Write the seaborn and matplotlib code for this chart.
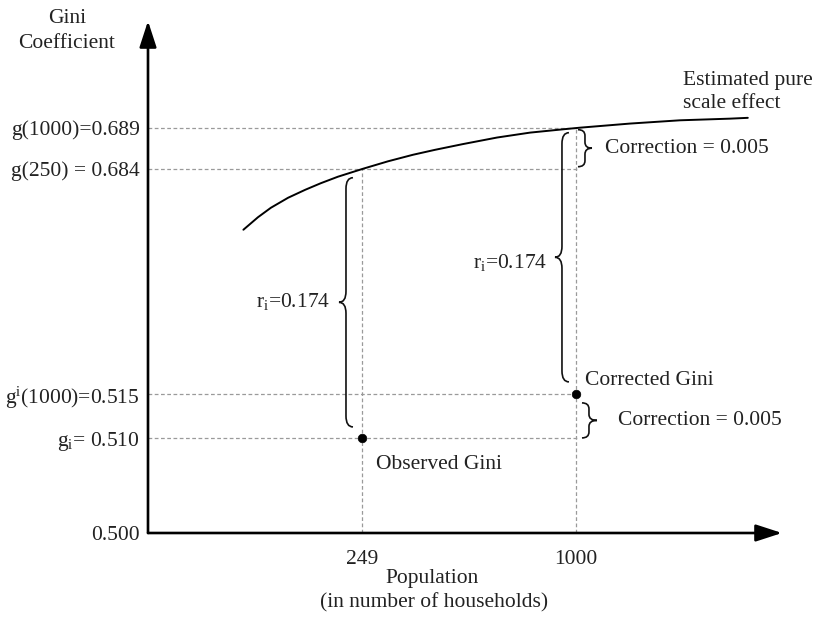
import numpy as np
import matplotlib
matplotlib.use("Agg")
import matplotlib.pyplot as plt
import seaborn as sns
from matplotlib.path import Path
from matplotlib.patches import PathPatch
from matplotlib.transforms import IdentityTransform

# ---------------- data ----------------
curve_pop = [111, 128, 143, 163, 183, 201, 221, 253, 340, 428, 505, 603,
             723, 839, 954, 1014, 1189, 1365, 1540, 1603]
curve_gini = [0.6382, 0.6476, 0.6547, 0.6622, 0.6682, 0.6731, 0.6780, 0.6840,
              0.6849, 0.6857, 0.6863, 0.6870, 0.6878, 0.6884, 0.6888, 0.6890,
              0.6895, 0.6899, 0.6901, 0.6902]
point_labels = ["Observed Gini", "Corrected Gini"]
point_pop = [249, 1000]
point_gini = [0.510, 0.515]
ref_pop = [250, 1000]
ref_gini = [0.684, 0.689]
y_ticks = [0.500, 0.510, 0.515, 0.684, 0.689]
y_tick_labels = ["0.500", r"g$_{\mathrm{i}}$= 0.510", r"g$^{\mathrm{i}}$(1000)=0.515",
                 "g(250) = 0.684", "g(1000)=0.689"]
x_ticks = [249, 1000]
x_tick_labels = ["249", "1000"]
r_label = r"r$_{\mathrm{i}}$=0.174"
corr_label = "Correction = 0.005"
curve_label = "Estimated pure\nscale effect"
y_title = "Gini\nCoefficient"
x_title = ["Population", "(in number of households)"]

# ---------------- schematic (broken) axis scales ----------------
x_knots = np.array([0, 249, 1000, 3000])
x_pos = np.array([0, 214, 428, 428 + 2000 / 3.509])
y_knots = np.array([0.500, 0.510, 0.515, 0.684, 0.689, 0.720])
y_pos = np.array([0, 95, 139, 364, 405, 405 + 31 * 8.2])

fx = lambda v: np.interp(v, x_knots, x_pos)
fx_inv = lambda p: np.interp(p, x_pos, x_knots)
fy = lambda v: np.interp(v, y_knots, y_pos)
fy_inv = lambda p: np.interp(p, y_pos, y_knots)

sns.set_theme(style="white")
plt.rcParams["font.family"] = ["Liberation Serif", "DejaVu Serif"]
plt.rcParams["mathtext.fontset"] = "custom"
plt.rcParams["mathtext.rm"] = "Liberation Serif"
plt.rcParams["mathtext.it"] = "Liberation Serif:italic"

FS = 15.5
TC = "#222222"
W, H = 818, 621

fig = plt.figure(figsize=(W / 100, H / 100), dpi=100)
ax = fig.add_axes([148 / W, 88 / H, 634 / W, 512 / H])
ax.set_xscale("function", functions=(fx, fx_inv))
ax.set_yscale("function", functions=(fy, fy_inv))
ax.set_xlim(0, 1723)
ax.set_ylim(0.500, 0.702)
for s in ax.spines.values():
    s.set_visible(False)
ax.grid(False)

# reference dashed lines
grid_kw = dict(color="#9a9a9a", lw=0.9, linestyles=(0, (3, 2)), zorder=1)
ax.hlines([ref_gini[1], ref_gini[0], point_gini[0]], 0, 1012, **grid_kw)
ax.hlines([point_gini[1]], 0, point_pop[1], **grid_kw)
ax.vlines([ref_pop[0]], 0.500, ref_gini[0], **grid_kw)
ax.vlines([ref_pop[1]], 0.500, ref_gini[1], **grid_kw)

# curve and points
sns.lineplot(x=curve_pop, y=curve_gini, ax=ax, color="black", lw=1.4,
             sort=False, zorder=3)
sns.scatterplot(x=point_pop, y=point_gini, ax=ax, color="black", s=38,
                edgecolor="black", linewidth=0.5, zorder=5)

# axes arrows
arrow_kw = dict(arrowstyle="-|>,head_length=0.8,head_width=0.26", color="black",
                lw=1.9, shrinkA=0, shrinkB=0, mutation_scale=20)
ax.annotate("", xy=(0, 1), xytext=(0, 0), xycoords="axes fraction",
            arrowprops=arrow_kw, annotation_clip=False)
ax.annotate("", xy=(1, 0), xytext=(0, 0), xycoords="axes fraction",
            arrowprops=arrow_kw, annotation_clip=False)

# ticks
ax.set_yticks(y_ticks)
ax.set_yticklabels(y_tick_labels)
ax.set_xticks(x_ticks)
ax.set_xticklabels(x_tick_labels)
ax.minorticks_off()
ax.tick_params(axis="y", length=0, pad=6, labelsize=FS, labelcolor=TC)
ax.tick_params(axis="x", length=0, pad=12, labelsize=FS, labelcolor=TC)


def brace(x, y_lo, y_hi, dx, pad_lo, pad_hi, side, w=7, wt=7, r=11, rt=11):
    X, Ylo = ax.transData.transform((x, y_lo))
    _, Yhi = ax.transData.transform((x, y_hi))
    xc = X + dx
    y0 = Ylo + pad_lo
    y1 = Yhi - pad_hi
    ym = (y0 + y1) / 2
    e = xc - side * w
    t = xc + side * wt
    verts = [(e, y1), (xc, y1), (xc, y1 - r), (xc, ym + rt), (xc, ym), (t, ym),
             (xc, ym), (xc, ym - rt), (xc, y0 + r), (xc, y0), (e, y0)]
    codes = [Path.MOVETO, Path.CURVE3, Path.CURVE3, Path.LINETO, Path.CURVE3,
             Path.CURVE3, Path.CURVE3, Path.CURVE3, Path.LINETO, Path.CURVE3,
             Path.CURVE3]
    patch = PathPatch(Path(verts, codes), transform=IdentityTransform(),
                      facecolor="none", edgecolor="#111111", lw=1.2, zorder=4)
    fig.add_artist(patch)
    return t, ym


def label_at(pt, text, dx, dy, ha="left"):
    ax.annotate(text, xy=pt, xycoords="figure pixels", xytext=(dx, dy),
                textcoords="offset pixels", ha=ha, va="center", fontsize=FS,
                color=TC, annotation_clip=False)


tip = brace(point_pop[0], point_gini[0], ref_gini[0], -16, 11, 9, -1)
label_at(tip, r_label, -9, 1, ha="right")
tip = brace(point_pop[1], point_gini[1], ref_gini[1], -14, 12, 5, -1)
label_at(tip, r_label, -8, -5, ha="right")
tip = brace(point_pop[1], ref_gini[0], ref_gini[1], 9, 2, 2, 1, w=7, wt=7, r=6, rt=6)
label_at(tip, corr_label, 13, 0)
tip = brace(point_pop[1], point_gini[0], point_gini[1], 13, 0, 9, 1, w=7, wt=8, r=6, rt=6)
label_at(tip, corr_label, 21, 0)

# point labels
pts = ax.transData.transform(np.column_stack([point_pop, point_gini]))
label_at(tuple(pts[0]), point_labels[0], 14, -27)
label_at(tuple(pts[1]), point_labels[1], 9, 13)

# curve label
end = ax.transData.transform((curve_pop[-1], curve_gini[-1]))
ax.annotate(curve_label, xy=tuple(end), xycoords="figure pixels", xytext=(-65, 26),
            textcoords="offset pixels", ha="left", va="center", fontsize=FS,
            color=TC, linespacing=1.25, annotation_clip=False)

# axis titles
fig.text(67 / W, 1 - 31 / H, y_title, ha="center", va="center", fontsize=FS,
         color=TC, linespacing=1.4)
fig.text(432 / W, 1 - 579 / H, x_title[0], ha="center", va="center",
         fontsize=FS, color=TC)
fig.text(434 / W, 1 - 603 / H, x_title[1], ha="center", va="center",
         fontsize=FS, color=TC)

fig.savefig("out.png", dpi=100)
